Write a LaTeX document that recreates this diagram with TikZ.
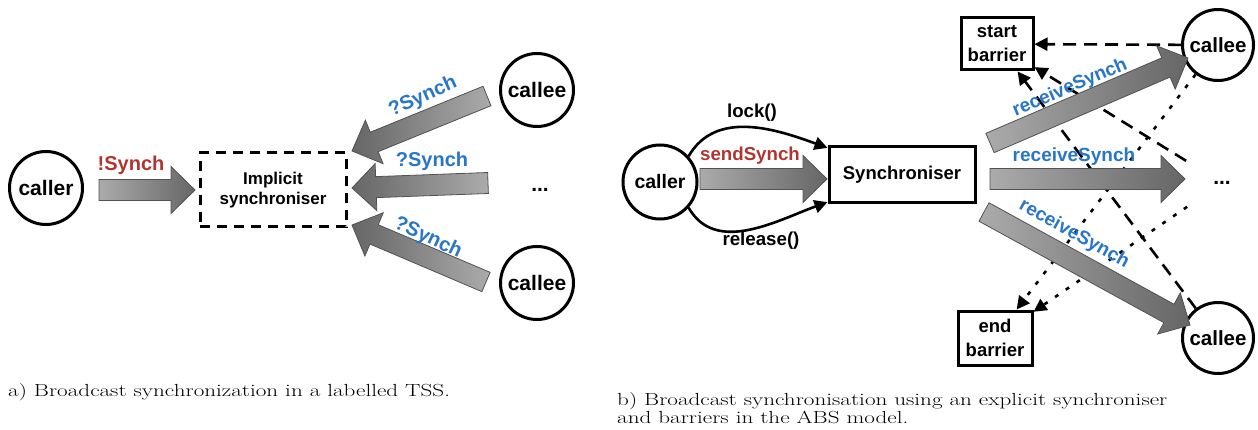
\documentclass[tikz,border=0pt]{standalone}
\usepackage{fontspec}
\usepackage{graphicx}
\newfontfamily\hv{Liberation Sans}
\usetikzlibrary{calc,arrows.meta}
\definecolor{synred}{RGB}{178,52,48}
\definecolor{synblue}{RGB}{40,118,200}
\tikzset{
  lbl/.style={font=\hv\bfseries, inner sep=0pt},
  party/.style={circle, draw, line width=3pt, minimum size=73pt, inner sep=0pt, font=\hv\bfseries\fontsize{21}{24}\selectfont},
  boxnode/.style={rectangle, draw, line width=3pt, inner sep=0pt, align=center, font=\hv\bfseries\fontsize{18.5}{23}\selectfont},
  fatR/.style={draw=black!68, line width=0.8pt, left color=black!33, right color=black!60},
  fatL/.style={draw=black!68, line width=0.8pt, left color=black!60, right color=black!33},
  headarr/.style={-{Triangle[length=13pt,width=13pt]}, line width=2.6pt},
  longdash/.style={headarr, dash pattern=on 13pt off 8pt},
  shortdot/.style={headarr, dash pattern=on 4pt off 9pt},
  caption/.style={anchor=base west, inner sep=0pt, font=\fontsize{17.5}{18.5}\selectfont},
}
\newcommand\captext[1]{\scalebox{1.32}[1]{#1}}
\newcommand\fatarrow[3][fatR]{%
  \coordinate (fah) at ($(#3)!24pt!(#2)$);
  \shade[#1] ($(#2)!10.5pt!90:(#3)$) -- ($(fah)!10.5pt!90:(#3)$) -- ($(fah)!23.5pt!90:(#3)$) -- (#3)
     -- ($(fah)!23.5pt!-90:(#3)$) -- ($(fah)!10.5pt!-90:(#3)$) -- ($(#2)!10.5pt!-90:(#3)$) -- cycle;
}
\begin{document}
\begin{tikzpicture}[x=1pt,y=-1pt]
\useasboundingbox (0,0) rectangle (1258,430);
% ---------------- (a) ----------------
\node[party] (callerA) at (46,188) {caller};
\node[rectangle, draw, line width=3pt, dash pattern=on 10pt off 7pt, minimum width=146pt, minimum height=74pt,
      align=center, font=\hv\bfseries\fontsize{17}{20}\selectfont] (impl) at (273,190) {Implicit\\synchroniser};
\node[party] (calleeA1) at (537,90) {callee};
\node[party] (calleeA2) at (537,283) {callee};
\node[lbl, font=\hv\bfseries\fontsize{21}{24}\selectfont] (dotsA) at (540,190) {...};

\coordinate (a0s) at (99,190);  \coordinate (a0e) at (195,190);
\coordinate (a1s) at (487,96);  \coordinate (a1e) at (352,151);
\coordinate (a2s) at (488,183); \coordinate (a2e) at (352,188);
\coordinate (a3s) at (486,282); \coordinate (a3e) at (352,225);
\fatarrow{a0s}{a0e}
\fatarrow[fatL]{a1s}{a1e}
\fatarrow[fatL]{a2s}{a2e}
\fatarrow[fatL]{a3s}{a3e}

\node[lbl, text=synred, font=\hv\bfseries\fontsize{20}{24}\selectfont] (lA0) at (131,165) {!Synch};
\node[lbl, text=synblue, font=\hv\bfseries\fontsize{20}{24}\selectfont, rotate=24] (lA1) at (423,97) {?Synch};
\node[lbl, text=synblue, font=\hv\bfseries\fontsize{20}{24}\selectfont] (lA2) at (432,161) {?Synch};
\node[lbl, text=synblue, font=\hv\bfseries\fontsize{20}{24}\selectfont, rotate=-25] (lA3) at (428,238) {?Synch};

\node[caption] (capA) at (8,396) {\captext{a) Broadcast synchronization in a labelled TSS.}};

% ---------------- (b) ----------------
\node[party, minimum size=74pt, font=\hv\bfseries\fontsize{19.5}{24}\selectfont] (callerB) at (660,182) {caller};
\node[boxnode, minimum width=146pt, minimum height=56pt] (sync) at (902,175) {Synchroniser};
\node[boxnode, minimum width=72pt, minimum height=52pt, font=\hv\bfseries\fontsize{18.5}{24}\selectfont] (startB) at (997,44) {start\\barrier};
\node[boxnode, minimum width=74pt, minimum height=54pt, font=\hv\bfseries\fontsize{18.5}{24}\selectfont] (endB) at (995,338) {end\\barrier};
\node[party, minimum size=71pt, font=\hv\bfseries\fontsize{20.5}{24}\selectfont] (calleeB1) at (1218,45) {callee};
\node[party, minimum size=71pt, font=\hv\bfseries\fontsize{20.5}{24}\selectfont] (calleeB2) at (1218,338) {callee};
\node[lbl, circle, minimum size=84pt, font=\hv\bfseries\fontsize{21}{24}\selectfont] (dotsB) at (1222,183) {...};

\draw[headarr] (callerB.42) to[out=60, in=160] (sync.160);
\draw[headarr] (callerB.-42) to[out=-60, in=200] (sync.200);
\node[lbl, font=\hv\bfseries\fontsize{18.7}{24}\selectfont] (lock) at (752,113) {lock()};
\node[lbl, font=\hv\bfseries\fontsize{18.7}{24}\selectfont] (rel) at (761,241) {release()};

\coordinate (b0s) at (700,179); \coordinate (b0e) at (827,179);
\coordinate (b1s) at (990,143); \coordinate (b1e) at (1188,58);
\coordinate (b2s) at (990,179); \coordinate (b2e) at (1185,179);
\coordinate (b3s) at (984,212); \coordinate (b3e) at (1190,325);
\fatarrow{b0s}{b0e}

% dashed / dotted barrier connectors
\draw[longdash] (calleeB1) -- (startB);
\draw[longdash] (dotsB) -- (startB);
\draw[longdash] (calleeB2) -- (startB);
\draw[shortdot] (calleeB1) -- (endB);
\draw[shortdot] (dotsB) -- (endB);

\fatarrow{b1s}{b1e}
\fatarrow{b2s}{b2e}
\fatarrow{b3s}{b3e}

\node[lbl, text=synred, font=\hv\bfseries\fontsize{18.7}{24}\selectfont] (lB0) at (750,156) {sendSynch};
\node[lbl, text=synblue, font=\hv\bfseries\fontsize{19}{24}\selectfont, rotate=23] (lB1) at (1070,88) {receiveSynch};
\node[lbl, text=synblue, font=\hv\bfseries\fontsize{19}{24}\selectfont] (lB2) at (1074,157) {receiveSynch};
\node[lbl, text=synblue, font=\hv\bfseries\fontsize{19}{24}\selectfont, rotate=-29] (lB3) at (1074,234) {receiveSynch};

\node[caption] (capB1) at (617,405) {\captext{b) Broadcast synchronisation using an explicit synchroniser}};
\node[caption] (capB2) at (617,423) {\captext{and barriers in the ABS model.}};
\end{tikzpicture}
\end{document}
